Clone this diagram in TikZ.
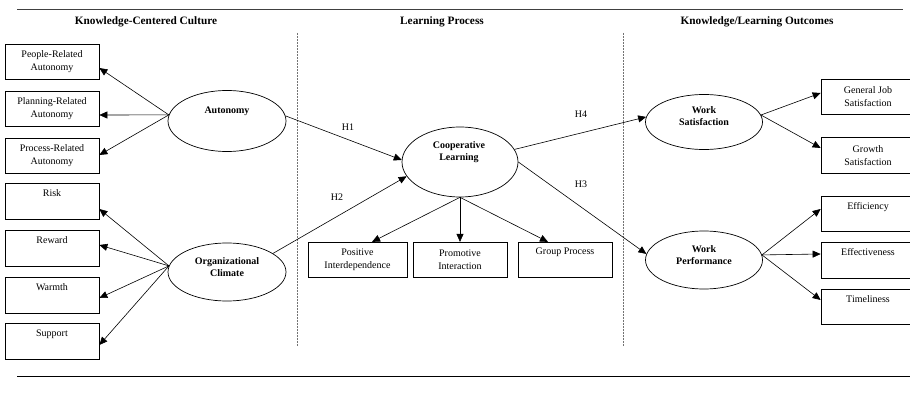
\documentclass[tikz,border=0pt]{standalone}
\usepackage{fontspec}
\setmainfont{Liberation Serif}
\usetikzlibrary{arrows.meta,shapes.geometric}
\begin{document}
\begin{tikzpicture}[x=1pt,y=-1pt,
  box/.style={draw, rectangle, line width=0.7pt, minimum width=94pt, minimum height=35.5pt, inner sep=0pt, align=center, font=\fontsize{10}{13}\selectfont},
  ell/.style={draw, ellipse, line width=0.7pt, inner sep=0pt},
  lab/.style={font=\fontsize{10}{12}\selectfont\bfseries, align=center},
  hdr/.style={font=\fontsize{11.3}{13}\selectfont\bfseries},
  arr/.style={-{Triangle[length=8pt,width=7pt]}, line width=0.6pt},
  ln/.style={line width=0.6pt},
  hy/.style={font=\fontsize{10}{12}\selectfont},
  divider/.style={densely dotted, black!55, line width=0.5pt}]
\useasboundingbox (0,0) rectangle (910,406);

% rules
\coordinate (tl) at (17,10);
\coordinate (tr) at (903,10);
\coordinate (bl) at (17,376);
\coordinate (br) at (912,376);
\draw[line width=1pt, black!75] (tl) -- (tr);
\draw[line width=1pt] (bl) -- (br);

% headers
\node[hdr] (hd1) at (146,22) {Knowledge-Centered Culture};
\node[hdr] (hd2) at (442,22) {Learning Process};
\node[hdr] (hd3) at (757,22) {Knowledge/Learning Outcomes};

% dividers
\coordinate (d1t) at (297,33);
\coordinate (d1b) at (297,346);
\coordinate (d2t) at (623,33);
\coordinate (d2b) at (623,346);
\draw[divider] (d1t) -- (d1b);
\draw[divider] (d2t) -- (d2b);

% left boxes
\node[box] (b1) at (52,62) {People-Related\\Autonomy};
\node[box] (b2) at (52,109) {Planning-Related\\Autonomy};
\node[box] (b3) at (52,156) {Process-Related\\Autonomy};
\node[box] (risk) at (52,201.5) {Risk\\\strut};
\node[box] (reward) at (52,248.5) {Reward\\\strut};
\node[box] (warmth) at (52,295.5) {Warmth\\\strut};
\node[box] (support) at (52,341.5) {Support\\\strut};

% bottom boxes
\node[box, minimum width=99pt] (pi) at (357.5,260) {Positive\\Interdependence};
\node[box] (pr) at (460,260) {Promotive\\Interaction};
\node[box] (gp) at (565,260) {Group Process\\\strut};

% right boxes
\node[box] (gjs) at (868,97) {General Job\\Satisfaction};
\node[box] (gs) at (868,155.5) {Growth\\Satisfaction};
\node[box] (eff) at (868,214) {Efficiency\\\strut};
\node[box] (efv) at (868,260.5) {Effectiveness\\\strut};
\node[box] (tim) at (868,307) {Timeliness\\\strut};

% ellipses
\node[ell, minimum width=118pt, minimum height=61pt] (A) at (227,121) {};
\node[ell, minimum width=118pt, minimum height=58pt] (O) at (227,272) {};
\node[ell, minimum width=116pt, minimum height=70pt] (C) at (460,162) {};
\node[ell, minimum width=117pt, minimum height=55pt] (WS) at (704,122) {};
\node[ell, minimum width=117pt, minimum height=58pt] (WP) at (704,260) {};

\node[lab] (tA) at (227,111) {Autonomy};
\node[lab] (tO) at (227,267.5) {Organizational\\Climate};
\node[lab] (tC) at (459,152.5) {Cooperative\\Learning};
\node[lab] (tWS) at (704,116) {Work\\Satisfaction};
\node[lab] (tWP) at (704,255.5) {Work\\Performance};

% hypothesis labels
\node[hy] (lh1) at (348,127) {H1};
\node[hy] (lh2) at (337,197) {H2};
\node[hy] (lh4) at (581,114) {H4};
\node[hy] (lh3) at (581,184) {H3};

% autonomy arrows
\draw[arr] (A.174) -- ([yshift=-6pt]b1.east);
\draw[arr] (A.174) -- ([yshift=-6pt]b2.east);
\draw[arr] (A.174) -- ([yshift=1pt]b3.east);

% climate arrows
\draw[arr] (O.174) -- ([yshift=-7.5pt]risk.east);
\draw[arr] (O.174) -- ([yshift=3.5pt]reward.east);
\draw[arr] (O.174) -- ([yshift=-2.5pt]warmth.east);
\draw[arr] (O.174) -- ([yshift=-3.5pt]support.east);

% hypotheses
\draw[arr] (A.5) -- (C.178);
\draw[arr] (O.22) -- (C.195);
\draw[arr] (C.13) -- (WS.175);
\draw[arr] (C.east) -- (WP.174);

% cooperative learning dimensions
\draw[arr] (C.south) -- ([xshift=14.5pt]pi.north);
\draw[arr] (C.south) -- (pr.north);
\draw[arr] (C.south) -- ([xshift=-17pt]gp.north);

% outcomes
\draw[arr] (WS.7) -- ([yshift=4pt]gjs.west);
\draw[arr] (WS.7) -- ([yshift=7.5pt]gs.west);
\draw[arr] (WP.5) -- ([yshift=5pt]eff.west);
\draw[arr] (WP.5) -- ([yshift=6.5pt]efv.west);
\draw[arr] (WP.5) -- ([yshift=7pt]tim.west);
\end{tikzpicture}
\end{document}
